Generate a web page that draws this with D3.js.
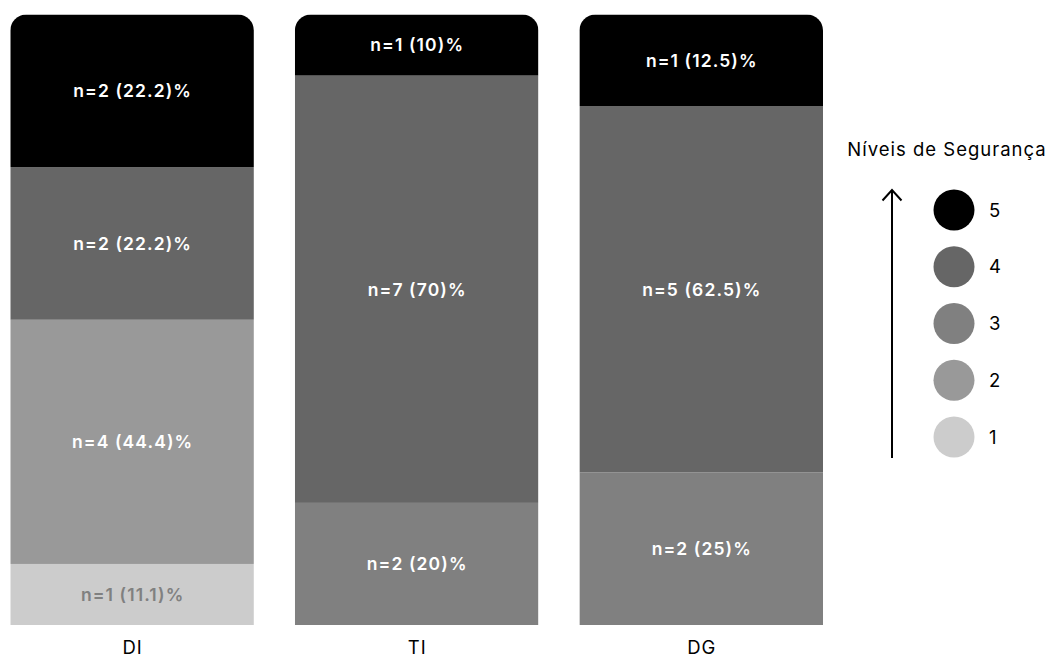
<!DOCTYPE html>
<html>
<head>
<meta charset="utf-8">
<script src="https://cdn.jsdelivr.net/npm/d3@7"></script>
<style>
html,body{margin:0;padding:0;background:#fff;}
svg{display:block;font-family:Inter,"Noto Sans",sans-serif;}
</style>
</head>
<body>
<svg id="chart" width="1049" height="659"></svg>
<script>
const categories = ["DI", "TI", "DG"];
const levels = [1, 2, 3, 4, 5];
const levelColors = ["#cccccc", "#999999", "#808080", "#666666", "#000000"];
// drawn segment shares (%) per level 1..5
const sharesDI = [10, 40, 0, 25, 25];
const sharesTI = [0, 0, 20, 70, 10];
const sharesDG = [0, 0, 25, 60, 15];
// counts per level 1..5
const countsDI = [1, 4, 0, 2, 2];
const countsTI = [0, 0, 2, 7, 1];
const countsDG = [0, 0, 2, 5, 1];
// printed percentages per level 1..5
const pctDI = ["11.1", "44.4", "", "22.2", "22.2"];
const pctTI = ["", "", "20", "70", "10"];
const pctDG = ["", "", "25", "62.5", "12.5"];
const legendTitle = "Níveis de Segurança";

const shares = [sharesDI, sharesTI, sharesDG];
const counts = [countsDI, countsTI, countsDG];
const pcts = [pctDI, pctTI, pctDG];

const svg = d3.select("#chart");
const x = d3.scaleBand().domain(categories).range([10.3, 823]).paddingInner(0.144).paddingOuter(0);
const y = d3.scaleLinear().domain([0, 100]).range([625, 14.5]);
const color = d3.scaleOrdinal().domain(levels).range(levelColors);
const r = 16;
const ls = 1.1;

categories.forEach((cat, ci) => {
  const segs = [];
  let acc = 0;
  levels.forEach((lv, li) => {
    const v = shares[ci][li];
    if (v > 0) {
      segs.push({lv, y0: acc, y1: acc + v, n: counts[ci][li], p: pcts[ci][li]});
    }
    acc += v;
  });
  const clipId = "clip-" + cat;
  svg.append("clipPath").attr("id", clipId)
    .append("rect")
    .attr("x", x(cat)).attr("y", y(100))
    .attr("width", x.bandwidth()).attr("height", y(0) - y(100) + r)
    .attr("rx", r).attr("ry", r);
  const g = svg.append("g").attr("clip-path", `url(#${clipId})`);
  g.selectAll("rect").data(segs).join("rect")
    .attr("x", x(cat)).attr("width", x.bandwidth())
    .attr("y", d => y(d.y1)).attr("height", d => y(d.y0) - y(d.y1))
    .attr("fill", d => color(d.lv));
  svg.append("g").selectAll("text").data(segs).join("text")
    .attr("x", x(cat) + x.bandwidth() / 2 + ls / 2)
    .attr("y", d => (y(d.y0) + y(d.y1)) / 2)
    .attr("dy", "0.36em")
    .attr("text-anchor", "middle")
    .attr("font-size", 17.5)
    .attr("font-weight", 600)
    .attr("letter-spacing", ls)
    .attr("fill", d => d.lv === 1 ? "#808080" : "#ffffff")
    .text(d => `n=${d.n} (${d.p})%`);
});

const xAxis = svg.append("g").attr("transform", "translate(0,625)")
  .call(d3.axisBottom(x).tickSize(0).tickPadding(16));
xAxis.select(".domain").remove();
xAxis.selectAll("text").attr("font-size", 18.5).attr("font-family", "Inter, sans-serif")
  .attr("letter-spacing", 1).attr("dx", 0.5).attr("fill", "#000");

// legend
const leg = svg.append("g");
leg.append("text").attr("x", 947).attr("y", 156).attr("text-anchor", "middle")
  .attr("font-size", 18.5).attr("letter-spacing", 1).attr("fill", "#000").text(legendTitle);
const ly = d3.scalePoint().domain(levels.slice().reverse()).range([210, 437]);
leg.append("line").attr("x1", 892).attr("x2", 892).attr("y1", 458).attr("y2", 190)
  .attr("stroke", "#000").attr("stroke-width", 2);
leg.append("path").attr("d", "M882.5,200.5 L892,190 L901.5,200.5")
  .attr("fill", "none").attr("stroke", "#000").attr("stroke-width", 2);
leg.selectAll("circle").data(levels).join("circle")
  .attr("cx", 954).attr("cy", d => ly(d)).attr("r", 20.5)
  .attr("fill", d => color(d));
leg.selectAll("text.lv").data(levels).join("text").attr("class", "lv")
  .attr("x", 989).attr("y", d => ly(d)).attr("dy", "0.36em")
  .attr("font-size", 18.5).attr("fill", "#000").text(d => d);
</script>
</body>
</html>
